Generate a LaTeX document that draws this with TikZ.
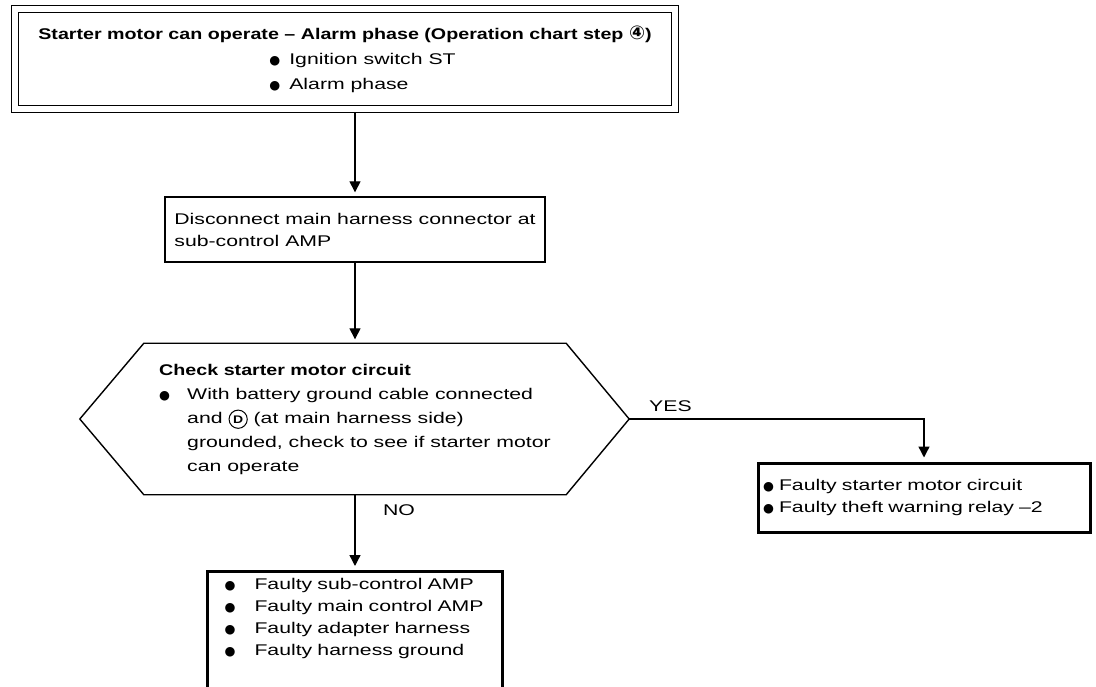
\documentclass[tikz,border=0pt]{standalone}
\usepackage{fontspec}
\setmainfont{Liberation Sans}[FakeStretch=1.37, BoldFeatures={FakeStretch=1.27}]
\newfontfamily\symfont{DejaVu Sans}
\usetikzlibrary{arrows.meta,calc}

% circled marks and round bullet
\newcommand{\ringfour}{{\symfont\fontsize{19}{19}\selectfont ④}}
\newcommand{\ringed}[1]{\tikz[baseline=(rc.base)]\node[circle, draw, line width=1pt,
    inner sep=2pt, minimum size=0pt, text width={}, align=center,
    font=\fontsize{11}{11}\selectfont\bfseries] (rc) {#1};}
\newcommand{\bul}[1]{\makebox[#1][l]{\symfont\fontsize{12.5}{12.5}\selectfont ●}}

\begin{document}
\begin{tikzpicture}[x=1pt, y=-1pt, >={Triangle[width=11pt,length=11pt]},
    font=\fontsize{15.5}{22}\selectfont,
    framebox/.style={draw, line width=1.4pt, align=left},
    resultbox/.style={framebox, line width=3pt},
    flow/.style={->, line width=1.4pt, shorten >=4pt}]
    \useasboundingbox (0,0) rectangle (1096,687);

    % start condition
    \node[framebox, double, double distance=5.5pt, outer sep=4.2pt,
          minimum width=660pt, minimum height=100pt,
          font=\fontsize{15.5}{25}\selectfont] (alarm) at (345,59)
        {\textbf{Starter motor can operate -- Alarm phase (Operation chart step \ringfour)}\\
         \hspace*{231pt}\bul{20pt}Ignition switch ST\\
         \hspace*{231pt}\bul{20pt}Alarm phase};

    \node[framebox, minimum width=380pt, minimum height=65pt] (disc) at (355,229.5)
        {Disconnect main harness connector at\\ sub-control AMP};

    % check step (hexagon drawn round the node)
    \node[align=left, minimum width=422pt, minimum height=151pt,
          font=\fontsize{15.5}{24}\selectfont] (check) at (355,419)
        {\textbf{Check starter motor circuit}\\
         \bul{28pt}With battery ground cable connected\\
         \hspace*{28pt}and \ringed{D} (at main harness side)\\
         \hspace*{28pt}grounded, check to see if starter motor\\
         \hspace*{28pt}can operate};
    \draw[line width=1.4pt] (check.north west) -- (check.north east)
        -- ($(check.east)+(63,0)$) coordinate (tip)
        -- (check.south east) -- (check.south west)
        -- ($(check.west)+(-64,0)$) -- cycle;

    % results
    \node[resultbox, minimum width=332pt, minimum height=69pt, text width=322pt,
          inner xsep=5pt] (fault1) at (924,497.5)
        {\bul{16pt}\mbox{Faulty starter motor circuit}\\
         \bul{16pt}\mbox{Faulty theft warning relay --2}};
    \node[resultbox, anchor=north, minimum width=295pt, text width=261pt,
          inner xsep=17pt, inner ysep=7pt] (fault2) at (355,570)
        {\bul{30pt}\mbox{Faulty sub-control AMP}\\
         \bul{30pt}\mbox{Faulty main control AMP}\\
         \bul{30pt}\mbox{Faulty adapter harness}\\
         \bul{30pt}\mbox{Faulty harness ground}\\[30pt]\mbox{}};

    \draw[flow] (alarm.south -| disc.north) -- (disc.north);
    \draw[flow] (disc.south) -- (check.north);
    \draw[flow] (tip) -| (fault1.north) node[pos=0.07, above=3pt] (yes) {YES};
    \draw[flow] (check.south) -- (fault2.north) node[pos=0.2, right=24pt] (no) {NO};
\end{tikzpicture}
\end{document}
